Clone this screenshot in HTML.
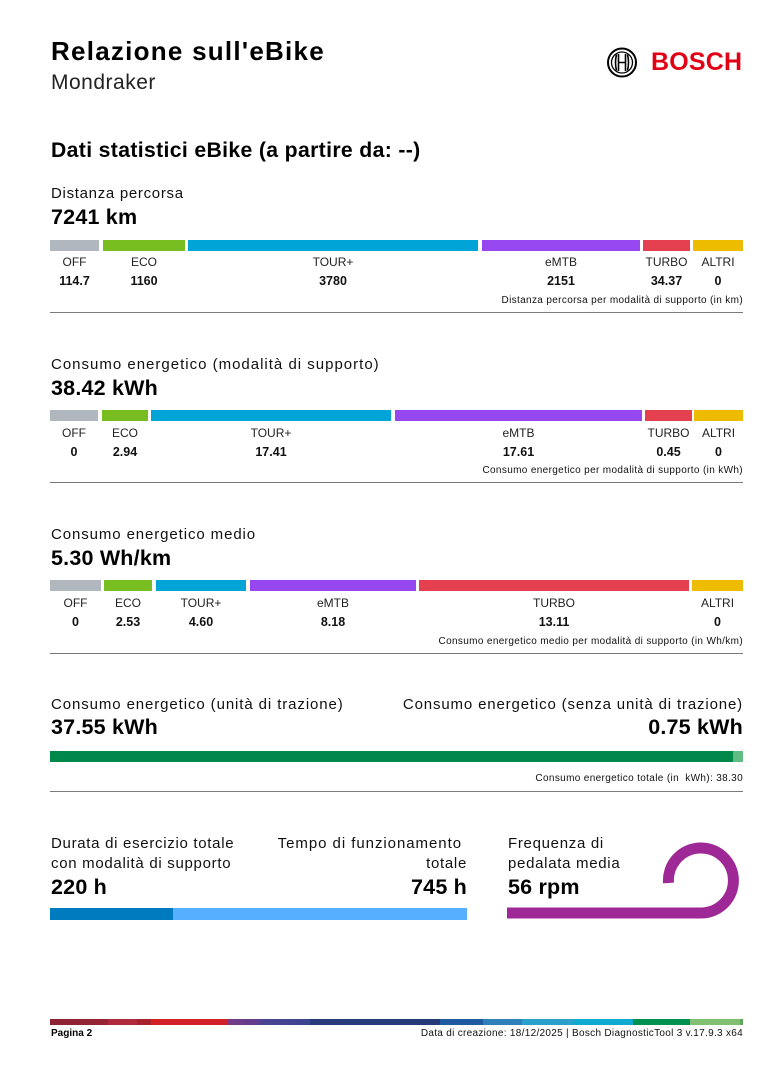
<!DOCTYPE html>
<html>
<head>
<meta charset="utf-8">
<style>
  html,body{margin:0;padding:0;background:#fff;}
  body{width:762px;height:1079px;position:relative;overflow:hidden;font-family:"Liberation Sans",Arial,sans-serif;color:#000;}
  .a{position:absolute;white-space:nowrap;}
  .t{font-size:15px;line-height:15px;letter-spacing:0.7px;color:#111;}
  .v{font-size:21.5px;line-height:22px;font-weight:bold;letter-spacing:0.2px;}
  .bar{position:absolute;height:11px;}
  .lab{position:absolute;font-size:12px;line-height:12px;text-align:center;color:#222;}
  .val{position:absolute;font-size:12.5px;line-height:13px;text-align:center;font-weight:bold;color:#111;}
  .cap{position:absolute;right:19px;font-size:10px;line-height:10px;letter-spacing:0.35px;color:#111;white-space:nowrap;}
  .hr{position:absolute;left:50px;width:693px;height:1px;background:#7a7a7a;}
  .off{background:#b0b7be;} .eco{background:#78be20;} .tour{background:#00a4d6;}
  .emtb{background:#9747ef;} .turbo{background:#e5404f;} .altri{background:#edbb00;}
</style>
</head>
<body>

<!-- Header -->
<div class="a" style="left:51px;top:38px;font-size:26px;line-height:26px;font-weight:bold;letter-spacing:1.25px;">Relazione sull'eBike</div>
<div class="a" style="left:51px;top:72px;font-size:21px;line-height:21px;letter-spacing:0.5px;color:#222;">Mondraker</div>

<svg class="a" style="left:600px;top:40px;" width="50" height="46" viewBox="600 40 50 46">
  <circle cx="622" cy="62.5" r="14" fill="none" stroke="#000" stroke-width="2"/>
  <circle cx="622" cy="62.5" r="10.5" fill="none" stroke="#000" stroke-width="1.3"/>
  <path d="M616.5,54.5 Q614.5,62.5 616.5,70.5 M627.5,54.5 Q629.5,62.5 627.5,70.5" fill="none" stroke="#000" stroke-width="1.6"/>
  <path d="M618.5,54 L618.5,71 M625.5,54 L625.5,71 M618.5,62.5 L625.5,62.5" fill="none" stroke="#000" stroke-width="1.6"/>
</svg>
<div class="a" style="left:651px;top:50px;font-size:25px;line-height:24px;font-weight:bold;color:#e20015;letter-spacing:0.2px;">BOSCH</div>

<div class="a" style="left:51px;top:140px;font-size:21.2px;line-height:22px;font-weight:bold;letter-spacing:0.35px;">Dati statistici eBike (a partire da: --)</div>

<!-- Section 1 -->
<div class="a t" style="left:51px;top:186px;">Distanza percorsa</div>
<div class="a v" style="left:51px;top:206px;">7241 km</div>
<div class="bar off" style="left:50px;top:240px;width:49px;"></div>
<div class="bar eco" style="left:103px;top:240px;width:82px;"></div>
<div class="bar tour" style="left:188px;top:240px;width:290px;"></div>
<div class="bar emtb" style="left:482px;top:240px;width:158px;"></div>
<div class="bar turbo" style="left:643px;top:240px;width:47px;"></div>
<div class="bar altri" style="left:693px;top:240px;width:50px;"></div>
<div class="lab" style="left:50px;top:256px;width:49px;">OFF</div>
<div class="lab" style="left:103px;top:256px;width:82px;">ECO</div>
<div class="lab" style="left:188px;top:256px;width:290px;">TOUR+</div>
<div class="lab" style="left:482px;top:256px;width:158px;">eMTB</div>
<div class="lab" style="left:643px;top:256px;width:47px;">TURBO</div>
<div class="lab" style="left:693px;top:256px;width:50px;">ALTRI</div>
<div class="val" style="left:50px;top:275px;width:49px;">114.7</div>
<div class="val" style="left:103px;top:275px;width:82px;">1160</div>
<div class="val" style="left:188px;top:275px;width:290px;">3780</div>
<div class="val" style="left:482px;top:275px;width:158px;">2151</div>
<div class="val" style="left:643px;top:275px;width:47px;">34.37</div>
<div class="val" style="left:693px;top:275px;width:50px;">0</div>
<div class="cap" style="top:295.5px;">Distanza percorsa per modalità di supporto (in km)</div>
<div class="hr" style="top:312px;"></div>

<!-- Section 2 -->
<div class="a t" style="left:51px;top:357px;letter-spacing:1px;">Consumo energetico (modalità di supporto)</div>
<div class="a v" style="left:51px;top:377px;">38.42 kWh</div>
<div class="bar off" style="left:50px;top:410px;width:48px;"></div>
<div class="bar eco" style="left:102px;top:410px;width:46px;"></div>
<div class="bar tour" style="left:151px;top:410px;width:240px;"></div>
<div class="bar emtb" style="left:395px;top:410px;width:247px;"></div>
<div class="bar turbo" style="left:645px;top:410px;width:47px;"></div>
<div class="bar altri" style="left:694px;top:410px;width:49px;"></div>
<div class="lab" style="left:50px;top:426.5px;width:48px;">OFF</div>
<div class="lab" style="left:102px;top:426.5px;width:46px;">ECO</div>
<div class="lab" style="left:151px;top:426.5px;width:240px;">TOUR+</div>
<div class="lab" style="left:395px;top:426.5px;width:247px;">eMTB</div>
<div class="lab" style="left:645px;top:426.5px;width:47px;">TURBO</div>
<div class="lab" style="left:694px;top:426.5px;width:49px;">ALTRI</div>
<div class="val" style="left:50px;top:445.5px;width:48px;">0</div>
<div class="val" style="left:102px;top:445.5px;width:46px;">2.94</div>
<div class="val" style="left:151px;top:445.5px;width:240px;">17.41</div>
<div class="val" style="left:395px;top:445.5px;width:247px;">17.61</div>
<div class="val" style="left:645px;top:445.5px;width:47px;">0.45</div>
<div class="val" style="left:694px;top:445.5px;width:49px;">0</div>
<div class="cap" style="top:466px;">Consumo energetico per modalità di supporto (in kWh)</div>
<div class="hr" style="top:482px;"></div>

<!-- Section 3 -->
<div class="a t" style="left:51px;top:527px;letter-spacing:0.9px;">Consumo energetico medio</div>
<div class="a v" style="left:51px;top:547px;">5.30 Wh/km</div>
<div class="bar off" style="left:50px;top:580px;width:51px;"></div>
<div class="bar eco" style="left:104px;top:580px;width:48px;"></div>
<div class="bar tour" style="left:156px;top:580px;width:90px;"></div>
<div class="bar emtb" style="left:250px;top:580px;width:166px;"></div>
<div class="bar turbo" style="left:419px;top:580px;width:270px;"></div>
<div class="bar altri" style="left:692px;top:580px;width:51px;"></div>
<div class="lab" style="left:50px;top:596.5px;width:51px;">OFF</div>
<div class="lab" style="left:104px;top:596.5px;width:48px;">ECO</div>
<div class="lab" style="left:156px;top:596.5px;width:90px;">TOUR+</div>
<div class="lab" style="left:250px;top:596.5px;width:166px;">eMTB</div>
<div class="lab" style="left:419px;top:596.5px;width:270px;">TURBO</div>
<div class="lab" style="left:692px;top:596.5px;width:51px;">ALTRI</div>
<div class="val" style="left:50px;top:616px;width:51px;">0</div>
<div class="val" style="left:104px;top:616px;width:48px;">2.53</div>
<div class="val" style="left:156px;top:616px;width:90px;">4.60</div>
<div class="val" style="left:250px;top:616px;width:166px;">8.18</div>
<div class="val" style="left:419px;top:616px;width:270px;">13.11</div>
<div class="val" style="left:692px;top:616px;width:51px;">0</div>
<div class="cap" style="top:636.5px;">Consumo energetico medio per modalità di supporto (in Wh/km)</div>
<div class="hr" style="top:653px;"></div>

<!-- Section 4 -->
<div class="a t" style="left:51px;top:697px;letter-spacing:0.9px;">Consumo energetico (unità di trazione)</div>
<div class="a t" style="right:19px;top:697px;letter-spacing:0.85px;">Consumo energetico (senza unità di trazione)</div>
<div class="a v" style="left:51px;top:716px;">37.55 kWh</div>
<div class="a v" style="right:19px;top:716px;">0.75 kWh</div>
<div class="bar" style="left:50px;top:751px;width:683px;background:#00884a;"></div>
<div class="bar" style="left:733px;top:751px;width:10px;background:#5fbd82;"></div>
<div class="cap" style="top:773.5px;">Consumo energetico totale (in&nbsp; kWh): 38.30</div>
<div class="hr" style="top:791px;"></div>

<!-- Section 5 -->
<div class="a t" style="left:51px;top:835.5px;">Durata di esercizio totale</div>
<div class="a t" style="left:51px;top:855.5px;">con modalità di supporto</div>
<div class="a v" style="left:51px;top:876px;">220 h</div>

<div class="a t" style="right:300px;top:835.5px;letter-spacing:0.95px;">Tempo di funzionamento</div>
<div class="a t" style="right:295px;top:855.5px;">totale</div>
<div class="a v" style="right:295px;top:876px;">745 h</div>

<div class="bar" style="left:50px;top:908px;width:123px;height:12px;background:#007bc0;"></div>
<div class="bar" style="left:173px;top:908px;width:294px;height:12px;background:#56b0ff;"></div>

<div class="a t" style="left:508px;top:835.5px;">Frequenza di</div>
<div class="a t" style="left:508px;top:855.5px;">pedalata media</div>
<div class="a v" style="left:508px;top:876px;">56 rpm</div>

<svg class="a" style="left:0;top:0;" width="762" height="1079">
  <path d="M507,913 L701,913 A32.5,32.5 0 1 0 668.5,883" fill="none" stroke="#9e2896" stroke-width="11"/>
</svg>

<!-- Footer -->
<div class="a" style="left:50px;top:1019px;width:693px;height:6px;background:linear-gradient(to right,
  #8c2232 0px,#962535 58px,#b02a3d 58px,#b02a3d 87px,#a8222c 87px,#a8222c 101px,#d31f26 101px,#d31f26 178px,
  #7a3a86 178px,#5a3e8f 212px,#4a4390 212px,#3c4590 260px,#283b7b 260px,#263a7a 390px,
  #1f5aa0 390px,#1f5aa0 433px,#2f80ba 433px,#2f80ba 472px,#2aa0cc 472px,#2aa0cc 524px,#10aad0 524px,#10aad0 583px,
  #00904f 583px,#00904f 640px,#80c070 640px,#80c070 690px,#5ea85a 690px,#5ea85a 693px);"></div>
<div class="a" style="left:51px;top:1029px;font-size:10px;line-height:10px;font-weight:bold;">Pagina 2</div>
<div class="a" style="right:19px;top:1029px;font-size:10px;line-height:10px;letter-spacing:0.3px;color:#111;">Data di creazione: 18/12/2025 | Bosch DiagnosticTool 3 v.17.9.3 x64</div>

</body>
</html>
